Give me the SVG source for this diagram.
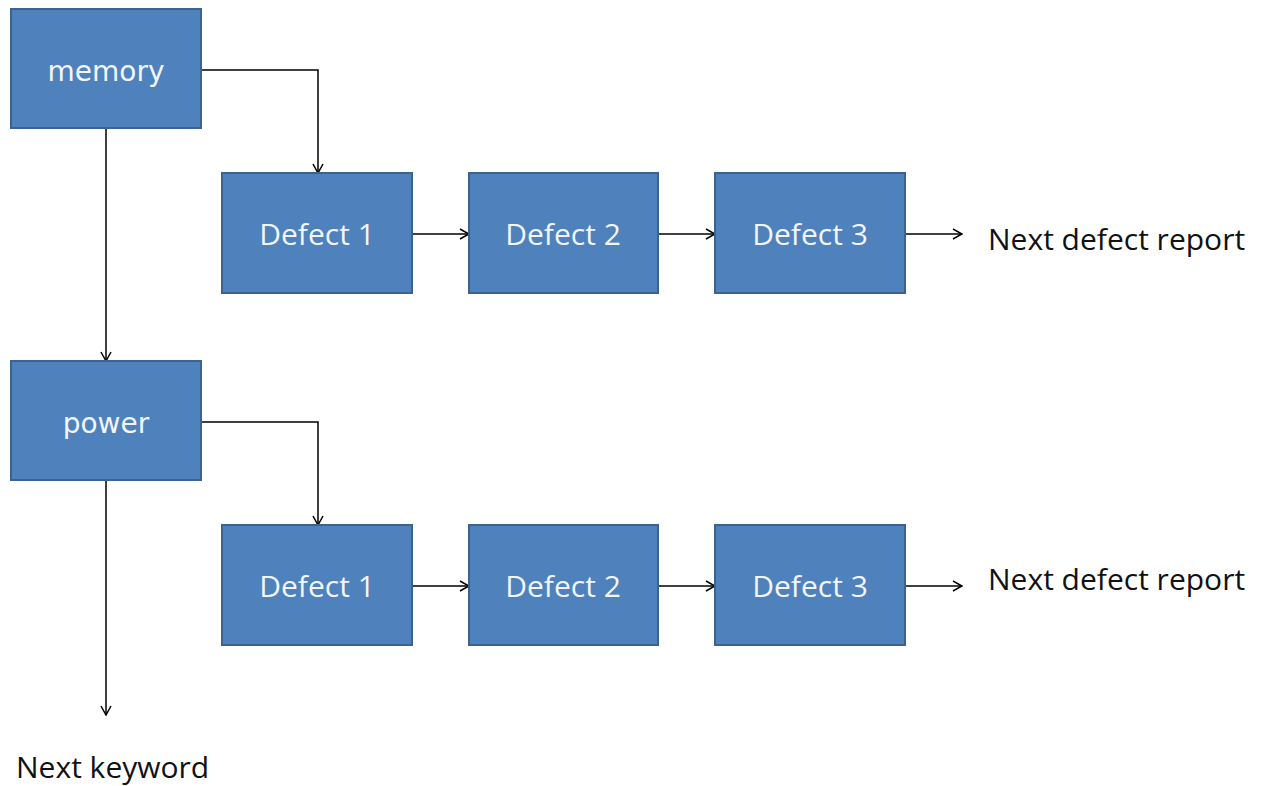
<svg xmlns="http://www.w3.org/2000/svg" width="1265" height="786" viewBox="0 0 1265 786">
  <style>
    .box { fill: #4F81BD; stroke: #3B6390; stroke-width: 2; }
    .key { font-family: "DejaVu Sans", Verdana, sans-serif; font-size: 28px; fill: #F2F6FC; text-anchor: middle; }
    .lbl { font-family: "Open Sans", "Liberation Sans", sans-serif; font-size: 30px; fill: #F2F6FC; text-anchor: middle; }
    .out { font-family: "Open Sans", "Liberation Sans", sans-serif; font-size: 30px; fill: #111; }
    .wire { fill: none; stroke: #000; stroke-width: 1.5; marker-end: url(#arrow); }
  </style>
  <defs>
    <marker id="arrow" viewBox="0 0 12 12" refX="11" refY="6" markerWidth="12" markerHeight="12" markerUnits="userSpaceOnUse" orient="auto">
      <path d="M2,1 L11,6 L2,11" fill="none" stroke="#000" stroke-width="1.5"/>
    </marker>
  </defs>
  <rect width="1265" height="786" fill="#fff"/>

  <g id="connectors">
    <path class="wire" d="M201,70 H318 V173"/>
    <path class="wire" d="M106,128 V361"/>
    <path class="wire" d="M201,422 H318 V525"/>
    <path class="wire" d="M106,480 V715"/>
    <path class="wire" d="M412,234 H469"/>
    <path class="wire" d="M658,234 H715"/>
    <path class="wire" d="M905,234 H962"/>
    <path class="wire" d="M412,586 H469"/>
    <path class="wire" d="M658,586 H715"/>
    <path class="wire" d="M905,586 H962"/>
  </g>

  <g id="memory">
    <rect class="box" x="11" y="9" width="190" height="119"/>
    <text class="key" x="106" y="81">memory</text>
  </g>
  <g id="power">
    <rect class="box" x="11" y="361" width="190" height="119"/>
    <text class="key" x="106" y="433">power</text>
  </g>

  <g id="memory-defect-1">
    <rect class="box" x="222" y="173" width="190" height="120"/>
    <text class="lbl" x="317" y="245">Defect 1</text>
  </g>
  <g id="memory-defect-2">
    <rect class="box" x="469" y="173" width="189" height="120"/>
    <text class="lbl" x="563" y="245">Defect 2</text>
  </g>
  <g id="memory-defect-3">
    <rect class="box" x="715" y="173" width="190" height="120"/>
    <text class="lbl" x="810" y="245">Defect 3</text>
  </g>

  <g id="power-defect-1">
    <rect class="box" x="222" y="525" width="190" height="120"/>
    <text class="lbl" x="317" y="597">Defect 1</text>
  </g>
  <g id="power-defect-2">
    <rect class="box" x="469" y="525" width="189" height="120"/>
    <text class="lbl" x="563" y="597">Defect 2</text>
  </g>
  <g id="power-defect-3">
    <rect class="box" x="715" y="525" width="190" height="120"/>
    <text class="lbl" x="810" y="597">Defect 3</text>
  </g>

  <g id="next-defect-report-1">
    <text class="out" x="988" y="250">Next defect report</text>
  </g>
  <g id="next-defect-report-2">
    <text class="out" x="988" y="590">Next defect report</text>
  </g>
  <g id="next-keyword">
    <text class="out" x="16" y="778">Next keyword</text>
  </g>
</svg>
